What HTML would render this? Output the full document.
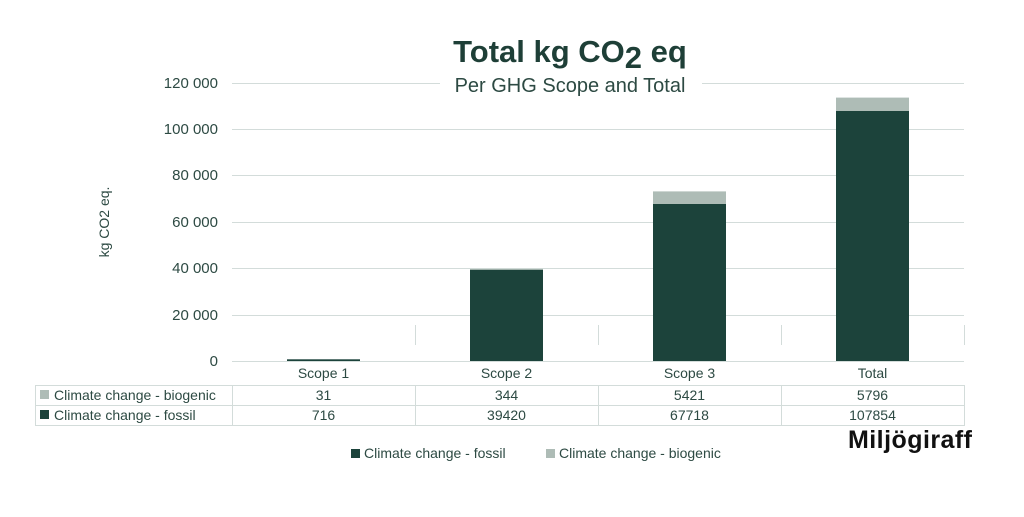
<!DOCTYPE html>
<html><head><style>
body{margin:0;background:#fff;}
svg text{font-family:"Liberation Sans",sans-serif;fill:#2d4a43;}
</style></head><body>
<svg width="1024" height="512" xmlns="http://www.w3.org/2000/svg">
<rect width="1024" height="512" fill="#fff"/>
<g stroke="#d3dcda" stroke-width="1">
<line x1="232" y1="83.5" x2="964" y2="83.5"/>
<line x1="232" y1="129.5" x2="964" y2="129.5"/>
<line x1="232" y1="175.5" x2="964" y2="175.5"/>
<line x1="232" y1="222.5" x2="964" y2="222.5"/>
<line x1="232" y1="268.5" x2="964" y2="268.5"/>
<line x1="232" y1="315.5" x2="964" y2="315.5"/>
<line x1="232" y1="361.5" x2="964" y2="361.5"/>
<line x1="415.5" y1="325" x2="415.5" y2="345"/>
<line x1="598.5" y1="325" x2="598.5" y2="345"/>
<line x1="781.5" y1="325" x2="781.5" y2="345"/>
<line x1="964.5" y1="325" x2="964.5" y2="345"/>
</g>
<rect x="440" y="72" width="262" height="26" fill="#fff"/>
<text x="570" y="62" text-anchor="middle" font-size="31" font-weight="bold" style="fill:#1e3f37">Total kg CO<tspan font-size="31" dy="6">2</tspan><tspan dy="-6"> eq</tspan></text>
<text x="570" y="92" text-anchor="middle" font-size="20" style="fill:#2d4a43">Per GHG Scope and Total</text>
<g font-size="15" text-anchor="end">
<text x="218" y="88">120 000</text>
<text x="218" y="134">100 000</text>
<text x="218" y="180">80 000</text>
<text x="218" y="227">60 000</text>
<text x="218" y="273">40 000</text>
<text x="218" y="320">20 000</text>
<text x="218" y="366">0</text>
</g>
<text transform="translate(109,222) rotate(-90)" text-anchor="middle" font-size="14">kg CO2 eq.</text>
<g fill="#1c433b">
<rect x="287" y="359.3" width="73" height="1.7"/>
<rect x="470" y="269.7" width="73" height="91.3"/>
<rect x="653" y="204" width="73" height="157"/>
<rect x="836" y="111" width="73" height="250"/>
</g>
<g fill="#aebcb6">
<rect x="470" y="268.9" width="73" height="0.8"/>
<rect x="653" y="191.4" width="73" height="12.6"/>
<rect x="836" y="97.6" width="73" height="13.4"/>
</g>
<g font-size="14" text-anchor="middle">
<text x="323.5" y="378">Scope 1</text>
<text x="506.5" y="378">Scope 2</text>
<text x="689.5" y="378">Scope 3</text>
<text x="872.5" y="378">Total</text>
</g>
<g stroke="#d3dcda" fill="none">
<rect x="35.5" y="385.5" width="929" height="40"/>
<line x1="35" y1="405.5" x2="964" y2="405.5"/>
<line x1="232.5" y1="385" x2="232.5" y2="426"/>
<line x1="415.5" y1="385" x2="415.5" y2="426"/>
<line x1="598.5" y1="385" x2="598.5" y2="426"/>
<line x1="781.5" y1="385" x2="781.5" y2="426"/>
</g>
<rect x="40" y="390" width="9" height="9" fill="#aebcb6"/>
<rect x="40" y="410" width="9" height="9" fill="#1c433b"/>
<g font-size="14">
<text x="54" y="400">Climate change - biogenic</text>
<text x="54" y="420">Climate change - fossil</text>
</g>
<g font-size="14" text-anchor="middle">
<text x="323.5" y="400">31</text><text x="506.5" y="400">344</text><text x="689.5" y="400">5421</text><text x="872.5" y="400">5796</text>
<text x="323.5" y="420">716</text><text x="506.5" y="420">39420</text><text x="689.5" y="420">67718</text><text x="872.5" y="420">107854</text>
</g>
<text x="848" y="448" font-size="25" font-weight="bold" textLength="124" style="fill:#111">Miljögiraff</text>
<rect x="351" y="449" width="9" height="9" fill="#1c433b"/>
<text x="364" y="458" font-size="14">Climate change - fossil</text>
<rect x="546" y="449" width="9" height="9" fill="#aebcb6"/>
<text x="559" y="458" font-size="14">Climate change - biogenic</text>
</svg>
</body></html>
